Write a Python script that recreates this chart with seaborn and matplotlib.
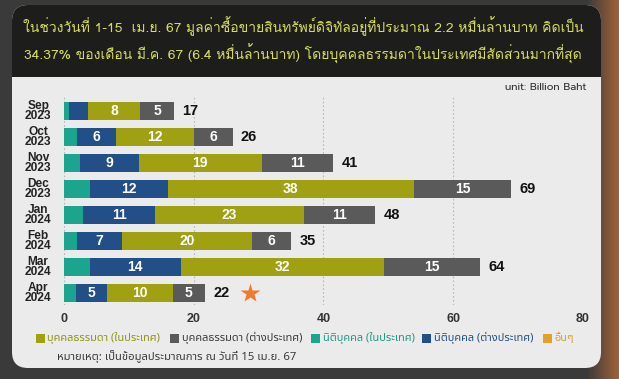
import numpy as np
import pandas as pd
import matplotlib
matplotlib.use('Agg')
import matplotlib.pyplot as plt
import seaborn as sns
from matplotlib.patches import FancyBboxPatch, Rectangle
from matplotlib.transforms import IdentityTransform

# ---------------- data (billion baht) ----------------
months = ['Sep\n2023', 'Oct\n2023', 'Nov\n2023', 'Dec\n2023',
          'Jan\n2024', 'Feb\n2024', 'Mar\n2024', 'Apr\n2024']
corp_dom = [0.7, 2.0, 2.5, 4.0, 3.0, 2.0, 4.0, 1.8]      # นิติบุคคล (ในประเทศ)
corp_for = [3.0, 6.0, 9.0, 12.0, 11.0, 7.0, 14.0, 4.9]   # นิติบุคคล (ต่างประเทศ)
ind_dom = [8.0, 12.0, 19.0, 38.0, 23.0, 20.0, 31.3, 10.1]  # บุคคลธรรมดา (ในประเทศ)
ind_for = [5.3, 6.0, 11.0, 15.0, 11.0, 6.0, 14.9, 4.9]   # บุคคลธรรมดา (ต่างประเทศ)
others = [0, 0, 0, 0, 0, 0, 0, 0]                         # อื่นๆ

corp_for_lbl = ['', '6', '9', '12', '11', '7', '14', '5']
ind_dom_lbl = ['8', '12', '19', '38', '23', '20', '32', '10']
ind_for_lbl = ['5', '6', '11', '15', '11', '6', '15', '5']
total_lbl = ['17', '26', '41', '69', '48', '35', '64', '22']

series = ['นิติบุคคล (ในประเทศ)', 'นิติบุคคล (ต่างประเทศ)',
          'บุคคลธรรมดา (ในประเทศ)', 'บุคคลธรรมดา (ต่างประเทศ)', 'อื่นๆ']
colors = ['#1ba58f', '#234f88', '#9fa112', '#5a5a5a', '#e3a02a']

title = ('ในช่วงวันที่ 1-15  เม.ย. 67 มูลค่าซื้อขายสินทรัพย์ดิจิทัลอยู่ที่ประมาณ 2.2 หมื่นล้านบาท คิดเป็น\n'
         '34.37% ของเดือน มี.ค. 67 (6.4 หมื่นล้านบาท) โดยบุคคลธรรมดาในประเทศมีสัดส่วนมากที่สุด')
note = 'หมายเหตุ: เป็นข้อมูลประมาณการ ณ วันที่ 15 เม.ย. 67'

df = pd.DataFrame({'month': months, series[0]: corp_dom, series[1]: corp_for,
                   series[2]: ind_dom, series[3]: ind_for, series[4]: others})
cum = df[series].cumsum(axis=1)

THAI = ['Noto Sans Thai', 'DejaVu Sans']

W, H = 619, 379
fig = plt.figure(figsize=(W / 100, H / 100), dpi=100)
fig.patch.set_facecolor('#3a3a3a')

# background: dark with warm blur on the right edge
bg = fig.add_axes([0, 0, 1, 1])
xs = np.linspace(0, 1, 300)
warm = np.clip((xs - 0.95) / 0.05, 0, 1)
img = np.zeros((10, 300, 3))
base = np.array([0.23, 0.23, 0.23])
hot = np.array([0.62, 0.38, 0.22])
img[:] = base + (hot - base) * warm[None, :, None]
bg.imshow(img, aspect='auto', extent=[0, 1, 0, 1])
bg.axis('off')


def px(x, y):
    return x, H - y


# panels (pixel coordinates)
fig.add_artist(FancyBboxPatch(px(12, 368), 589, 363, boxstyle='round,pad=0,rounding_size=16',
                              transform=IdentityTransform(), fc='#ebebeb', ec='none', zorder=1))
fig.add_artist(FancyBboxPatch(px(12, 100), 589, 95, boxstyle='round,pad=0,rounding_size=16',
                              transform=IdentityTransform(), fc='#1d1d1b', ec='none', zorder=2))
fig.add_artist(Rectangle(px(12, 110), 589, 33, transform=IdentityTransform(),
                         fc='#ebebeb', ec='none', zorder=3))

fig.text(303 / W, 1 - 40 / H, title, ha='center', va='center', color='#d6de5a',
         fontsize=10.0, family=['Loma', 'DejaVu Sans'], linespacing=1.5, zorder=5)

# ---------------- bars ----------------
ax = fig.add_axes([64 / W, 1 - 305 / H, 518.7 / W, 208 / H])
ax.set_zorder(5)
ax.patch.set_alpha(0)

for s, c in reversed(list(zip(series, colors))):
    sns.barplot(x=cum[s], y=df['month'], orient='h', color=c, saturation=1,
                width=0.7, ax=ax, zorder=3)

for i in range(len(months)):
    mids = [(cum[series[k]][i] - df[series[k]][i] / 2) for k in (1, 2, 3)]
    for m, lbl in zip(mids, (corp_for_lbl[i], ind_dom_lbl[i], ind_for_lbl[i])):
        ax.text(m, i, lbl, ha='center', va='center', color='white', fontsize=10,
                fontweight='bold', family='Liberation Sans', zorder=6)
    ax.annotate(total_lbl[i], (cum[series[4]][i], i), xytext=(6, 0), textcoords='offset points',
                ha='left', va='center', fontsize=10.5, fontweight='bold',
                family='Liberation Sans', color='#111111', zorder=6)

# star marker next to the latest month
ax.plot(cum[series[4]].iloc[-1] + 7, len(months) - 1, marker='*', markersize=15,
        color='#f07a2c', mec='none', zorder=6, clip_on=False)

ax.set_xlim(0, 80)
ax.set_ylim(7.47, -0.53)
ax.set_xticks([0, 20, 40, 60, 80])
ax.xaxis.grid(True, linestyle=(0, (1.5, 2)), color='#b8b8b8', linewidth=0.8, zorder=0)
ax.yaxis.grid(False)
ax.set_axisbelow(True)
for sp in ax.spines.values():
    sp.set_visible(False)
ax.tick_params(length=0)
ax.tick_params(axis='x', pad=6, labelsize=9, labelcolor='#333333')
ax.tick_params(axis='y', pad=9, labelsize=8.6, labelcolor='#222222')
for t in ax.get_xticklabels():
    t.set_fontweight('bold')
    t.set_family('Liberation Sans')
for t in ax.get_yticklabels():
    t.set_fontweight('bold')
    t.set_family('Liberation Sans')
    t.set_multialignment('center')
    t.set_linespacing(0.8)
ax.set_xlabel('')
ax.set_ylabel('')

fig.text(586 / W, 1 - 88 / H, 'unit: Billion Baht', ha='right', va='center',
         fontsize=7.5, family=['Prompt', 'DejaVu Sans'], color='#333333', zorder=6)

# legend row, laid out as in the source graphic
leg_order = [2, 3, 0, 1, 4]
leg_x = [36, 170, 311, 422, 543]
txt_colors = ['#8f9410', '#3a3a3a', '#1a9a86', '#234f88', '#d9a030']
for k, x0, tc in zip(leg_order, leg_x, txt_colors):
    fig.add_artist(Rectangle(px(x0, 342.5), 8.5, 8.5, transform=IdentityTransform(),
                             fc=colors[k], ec='none', zorder=6))
    fig.text((x0 + 11.5) / W, 1 - 338 / H, series[k], ha='left', va='center',
             fontsize=7.9, family=THAI, color=tc, zorder=6)

fig.text(57 / W, 1 - 357 / H, note, ha='left', va='center', fontsize=8.15,
         family=THAI, color='#3a3a3a', zorder=6)

fig.savefig('out.png', dpi=100, facecolor=fig.get_facecolor())
